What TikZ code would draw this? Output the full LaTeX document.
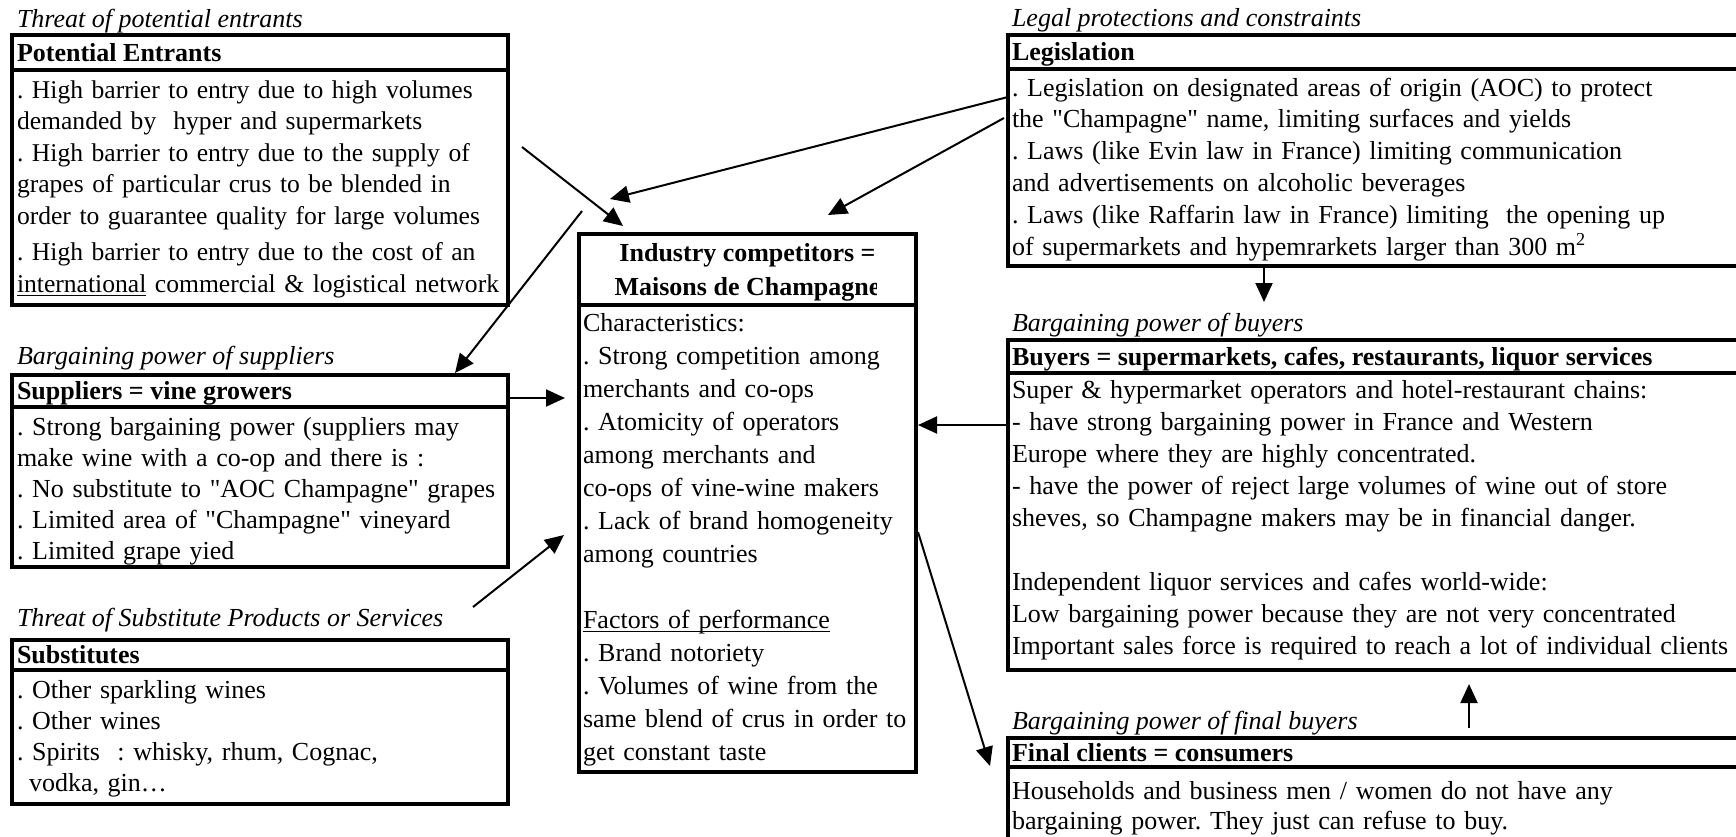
\documentclass[tikz,border=0pt]{standalone}
\usepackage{fontspec}
\setmainfont{Liberation Serif}
\usetikzlibrary{arrows.meta}
\frenchspacing
\newcommand\myul[1]{\leavevmode\setbox0\hbox{#1}\rlap{\vrule height -2.6pt depth 4.2pt width \wd0}\box0\relax}
\newcommand\dq{\textquotedbl{}}

\begin{document}
\begin{tikzpicture}[x=1pt,y=-1pt,
  frame/.style={draw, line width=4.5pt, inner sep=0pt, outer sep=0pt, anchor=north west},
  bodytxt/.style={inner sep=0pt, outer sep=0pt, anchor=base west, text width=800pt, align=left, font=\fontsize{26}{#1}\selectfont\frenchspacing},
  headtxt/.style={inner sep=0pt, outer sep=0pt, anchor=base west, font=\fontsize{26}{31}\selectfont\bfseries},
  titletxt/.style={inner sep=0pt, outer sep=0pt, anchor=base west, font=\fontsize{26}{31}\selectfont\itshape},
  arr/.style={line width=2pt, -{Triangle[length=19pt,width=17pt]}}
]
\useasboundingbox (0,0) rectangle (1736,836);
\fill[white] (0,0) rectangle (1736,836);
\clip (0,0) rectangle (1736,836);

% ---------- left column ----------
\node[titletxt] (t1) at (17,27) {Threat of potential entrants};
\node[frame, minimum width=496pt, minimum height=35pt] (b1h) at (12,35) {};
\node[frame, minimum width=496pt, minimum height=235pt] (b1b) at (12,70) {};
\node[headtxt] (b1ht) at (17,61) {Potential Entrants};
\node[bodytxt=31.5, font=\fontsize{25.6}{31.5}\selectfont] (b1bt) at (17,98) {. High barrier to entry due to high volumes\\
demanded by\ \ hyper and supermarkets\\
. High barrier to entry due to the supply of\\
grapes of particular crus to be blended in\\
order to guarantee quality for large volumes\\[5pt]
. High barrier to entry due to the cost of an\\
\myul{international} commercial \& logistical network};

\node[titletxt] (t2) at (17,364) {Bargaining power of suppliers};
\node[frame, minimum width=496pt, minimum height=32pt] (b2h) at (12,375) {};
\node[frame, minimum width=496pt, minimum height=160pt] (b2b) at (12,407) {};
\node[headtxt] (b2ht) at (17,399) {Suppliers = vine growers};
\node[bodytxt=31] (b2bt) at (17,435) {. Strong bargaining power (suppliers may\\
make wine with a co-op and there is :\\
. No substitute to \dq AOC Champagne\dq\ grapes\\
. Limited area of \dq Champagne\dq\ vineyard\\
. Limited grape yied};

\node[titletxt] (t3) at (17,626) {Threat of Substitute Products or Services};
\node[frame, minimum width=496pt, minimum height=30pt] (b3h) at (12,640) {};
\node[frame, minimum width=496pt, minimum height=134pt] (b3b) at (12,670) {};
\node[headtxt] (b3ht) at (17,663) {Substitutes};
\node[bodytxt=31] (b3bt) at (17,698) {. Other sparkling wines\\
. Other wines\\
. Spirits\ \ : whisky, rhum, Cognac,\\
\hspace*{12pt}vodka, gin…};

% ---------- centre ----------
\node[frame, minimum width=337pt, minimum height=71pt] (ch) at (579,234) {};
\node[frame, minimum width=337pt, minimum height=467pt] (cb) at (579,305) {};
\node[headtxt, anchor=base] (cht1) at (747.5,261) {Industry competitors =};
\begin{scope}
\clip (582,266) rectangle (876,304);
\node[headtxt, anchor=base] (cht2) at (747.5,295) {Maisons de Champagne};
\end{scope}
\node[bodytxt=33] (cbt) at (583,331) {Characteristics:\\
. Strong competition among\\
merchants and co-ops\\
. Atomicity of operators\\
among merchants and\\
co-ops of vine-wine makers\\
. Lack of brand homogeneity\\
among countries\\[33pt]
\myul{Factors of performance}\\
. Brand notoriety\\
. Volumes of wine from the\\
same blend of crus in order to\\
get constant taste};

% ---------- right column ----------
\node[titletxt] (t4) at (1012,26) {Legal protections and constraints};
\node[frame, minimum width=760pt, minimum height=34pt] (lh) at (1008,35) {};
\node[frame, minimum width=760pt, minimum height=197pt] (lb) at (1008,69) {};
\node[headtxt] (lht) at (1012,60) {Legislation};
\node[bodytxt=31.8] (lbt) at (1012,96) {. Legislation on designated areas of origin (AOC) to protect\\
the \dq Champagne\dq\ name, limiting surfaces and yields\\
. Laws (like Evin law in France) limiting communication\\
and advertisements on alcoholic beverages\\
. Laws (like Raffarin law in France) limiting\ \ the opening up\\
of supermarkets and hypemrarkets larger than 300 m\textsuperscript{2}};

\node[titletxt] (t5) at (1012,331) {Bargaining power of buyers};
\node[frame, minimum width=760pt, minimum height=33pt] (yh) at (1008,340) {};
\node[frame, minimum width=760pt, minimum height=297pt] (yb) at (1008,373) {};
\node[headtxt] (yht) at (1012,365) {Buyers = supermarkets, cafes, restaurants, liquor services};
\node[bodytxt=32] (ybt) at (1012,398) {Super \& hypermarket operators and hotel-restaurant chains:\\
- have strong bargaining power in France and Western\\
Europe where they are highly concentrated.\\
- have the power of reject large volumes of wine out of store\\
sheves, so Champagne makers may be in financial danger.\\[32pt]
Independent liquor services and cafes world-wide:\\
Low bargaining power because they are not very concentrated\\
Important sales force is required to reach a lot of individual clients};

\node[titletxt] (t6) at (1012,729) {Bargaining power of final buyers};
\node[frame, minimum width=760pt, minimum height=29pt] (fh) at (1008,738) {};
\node[frame, minimum width=760pt, minimum height=120pt] (fb) at (1008,767) {};
\node[headtxt] (fht) at (1012,761) {Final clients = consumers};
\node[bodytxt=30] (fbt) at (1012,799) {Households and business men / women do not have any\\
bargaining power. They just can refuse to buy.};

% ---------- connectors ----------
\coordinate (e1) at (522,147);  \coordinate (e1t) at (623,226);
\coordinate (l1) at (1008,97);  \coordinate (l1t) at (610,199);
\coordinate (l2) at (1004,118); \coordinate (l2t) at (828,215);
\coordinate (x1) at (582,211);  \coordinate (x1t) at (455,373);
\coordinate (s1) at (510,398);  \coordinate (s1t) at (565,398);
\coordinate (u1) at (473,607);  \coordinate (u1t) at (564,535);
\coordinate (r1) at (1006,425); \coordinate (r1t) at (918,425);
\coordinate (c1) at (918,532);  \coordinate (c1t) at (990,766);
\coordinate (d1) at (1264,268); \coordinate (d1t) at (1264,302);
\coordinate (f1) at (1469,728); \coordinate (f1t) at (1469,684);

\draw[arr] (e1) -- (e1t);
\draw[arr] (l1) -- (l1t);
\draw[arr] (l2) -- (l2t);
\draw[arr] (x1) -- (x1t);
\draw[arr] (s1) -- (s1t);
\draw[arr] (u1) -- (u1t);
\draw[arr] (r1) -- (r1t);
\draw[arr] (c1) -- (c1t);
\draw[arr] (d1) -- (d1t);
\draw[arr] (f1) -- (f1t);
\end{tikzpicture}
\end{document}
